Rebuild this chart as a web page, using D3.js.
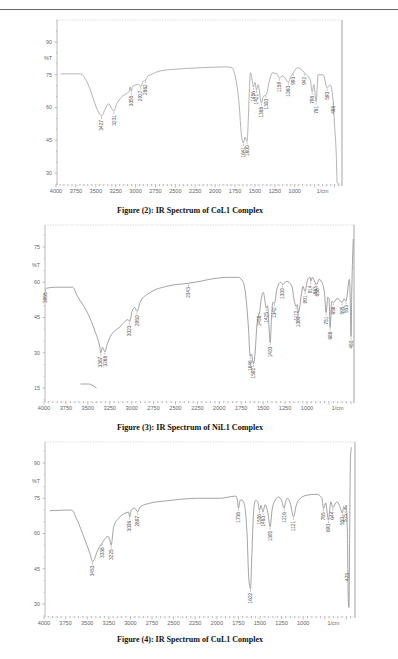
<!DOCTYPE html>
<html>
<head>
<meta charset="utf-8">
<script src="https://cdn.jsdelivr.net/npm/d3@7"></script>
<style>
    body { margin: 0; background: #fff; }
    svg { display: block; }
</style>
</head>
<body>
<svg id="page" width="398" height="659"></svg>
<script>
// each spectrum point: [wavenumber 1/cm, %T]
const coCurve = [[3940,75.4],[3690,75.4],[3625,72.7],[3560,67.2],[3500,60.7],[3460,57.5],[3427,56.1],[3386,58.9],[3336,61.7],[3311,60.3],[3273,58.4],[3236,61.7],[3160,65.3],[3085,67.2],[3068,69.5],[3055,67.3],[3040,69.5],[2960,70.6],[2935,69.6],[2905,72],[2872,72.5],[2850,74.2],[2810,75],[2684,76.8],[2434,77.7],[2183,78.2],[1870,78.6],[1790,78.3],[1744,73.6],[1700,62],[1669,47],[1644,43.8],[1625,46.5],[1600,44.5],[1582,56],[1568,70],[1556,75.9],[1535,72.5],[1519,69.4],[1500,71.5],[1481,68.1],[1460,70.5],[1419,62.1],[1395,65],[1360,65.8],[1320,72],[1281,75.9],[1230,75.5],[1193,73.6],[1150,74.5],[1080,71.7],[1045,74.5],[1018,75.9],[968,78.2],[920,77.5],[880,75.9],[840,74.5],[805,72.7],[781,67.2],[760,70.5],[731,62.6],[706,75],[643,75],[592,69],[554,70.4],[517,62.6],[504,54.3],[480,40],[466,25.4],[440,25]];
const coPeakWn = [3427, 3273, 3055, 2935, 2872, 1644, 1600, 1519, 1481, 1419, 1360, 1193, 1080, 1018, 880, 781, 731, 592, 517];
const coPeakText = ["3427", "3231", "3055", "2927", "2862", "1641", "1600", "1456", "1421", "1388", "1300", "1159", "1060", "993", "942", "798", "761", "590", "486"];

const niCurve = [[3983,57.4],[3869,57.9],[3675,57.9],[3618,54],[3505,47.1],[3413,38.6],[3364,32.6],[3352,30],[3333,32.3],[3305,30.4],[3280,33.5],[3243,36.9],[3130,41.1],[3041,44.1],[3023,43.3],[2995,47.6],[2966,49.3],[2939,47.6],[2900,51.9],[2786,55.7],[2597,58.3],[2351,59.6],[2218,60.4],[2104,61.3],[1876,62.1],[1785,62.1],[1728,60],[1694,52.7],[1667,40],[1648,28.5],[1635,29.5],[1610,25.3],[1590,31],[1575,40],[1555,46],[1540,47.5],[1522,53],[1497,55.7],[1480,52],[1465,49],[1450,50],[1432,40],[1420,34.3],[1405,45],[1390,51.5],[1371,51],[1344,57],[1300,60],[1280,59.1],[1230,60.4],[1173,58.3],[1144,51.9],[1124,49.7],[1112,50.5],[1098,47.1],[1067,54],[1048,58.3],[1022,56.1],[991,61.3],[965,62.1],[957,60.4],[939,62.1],[908,60],[888,59.1],[862,61.3],[831,60],[802,55.7],[782,47.1],[763,53.6],[748,52.7],[737,40.7],[718,51.9],[699,51.4],[660,53],[630,52.5],[600,51.4],[578,53],[555,52],[517,61.3],[505,50],[498,36.9],[490,55],[472,78.4]];
const niStray = [[3584,16.7],[3493,16.7],[3440,16],[3402,15]];
const niPeakWn = [3983, 3352, 3305, 3023, 2939, 2351, 1648, 1610, 1540, 1465, 1420, 1371, 1280, 1124, 1098, 1022, 957, 908, 888, 782, 737, 699, 600, 555, 498];
const niPeakText = ["3985", "3387", "3268", "3023", "2950", "2343", "1646", "1592", "1458", "1425", "1403", "1342", "1300", "1112", "1080", "991", "914", "863", "838", "751", "688", "658", "595", "553", "480"];

const cuCurve = [[3933,69.7],[3682,70],[3616,65.7],[3540,58.6],[3470,51.7],[3436,48],[3385,52.2],[3347,55],[3330,55.8],[3300,57.5],[3262,58.8],[3240,57.5],[3223,55],[3193,62.9],[3135,66.5],[3058,68.7],[3020,69.1],[3008,67.1],[2990,70],[2950,70.8],[2916,69.2],[2890,71.2],[2775,72.9],[2582,73.9],[2197,75],[1965,75],[1780,75.9],[1762,74.2],[1748,70.8],[1730,74.2],[1709,74.2],[1685,73],[1650,60],[1628,40],[1609,36.5],[1595,50],[1569,71.4],[1549,74.2],[1525,73.5],[1505,70],[1488,72],[1466,69.2],[1440,72.3],[1410,69],[1382,62.9],[1360,70],[1324,74.2],[1286,75.5],[1250,74],[1220,70.8],[1200,74],[1182,75],[1150,73],[1112,67.1],[1080,72],[1054,74.2],[957,76.3],[842,76.7],[784,75],[765,70.7],[740,73],[707,65.7],[680,73.5],[657,71],[611,73.5],[580,72],[546,68.7],[530,71.5],[514,70],[503,72.1],[488,60],[478,32],[470,28.5],[462,60],[452,93],[440,96.7]];
const cuPeakWn = [3436, 3330, 3223, 3008, 2916, 1748, 1609, 1505, 1466, 1382, 1220, 1112, 765, 707, 657, 546, 514, 470];
const cuPeakText = ["3453", "3338", "3225", "3006", "2897", "1738", "1622", "1506", "1483", "1392", "1216", "1121", "785", "690", "644", "550", "515", "473"];

const xTickLabels = [4000, 3750, 3500, 3250, 3000, 2750, 2500, 2250, 2000, 1750, 1500, 1250, 1000];
const coYTicks = [90, 75, 60, 45, 30];
const niYTicks = [75, 60, 45, 30, 15];
const cuYTicks = [90, 75, 60, 45, 30];
const titles = ["Figure (2): IR Spectrum of CoL1 Complex", "Figure (3): IR Spectrum of NiL1 Complex", "Figure (4): IR Spectrum of CuL1 Complex"];

let svg = d3.select("#page");

// rule at the top of the page
svg.append("line")
    .attr("x1", 0).attr("x2", 398)
    .attr("y1", 9.5).attr("y2", 9.5)
    .style("stroke", "#666")
    .style("stroke-width", 1);

function drawSpectrum(o) {
    let g = svg.append("g");
    let x = d3.scaleLinear().domain(o.xDomain).range(o.xRange);
    let y = d3.scaleLinear()
        .domain([o.yTicks[o.yTicks.length - 1], o.yTicks[0]])
        .range(o.yRange);
    let f = o.frame;

    // frame
    g.append("line").attr("x1", f.left).attr("x2", f.left).attr("y1", f.top).attr("y2", f.bottom)
        .style("stroke", "#a8a8a8").style("stroke-width", 0.8);
    g.append("line").attr("x1", f.right).attr("x2", f.right).attr("y1", f.top).attr("y2", f.bottom + 1)
        .style("stroke", "#999").style("stroke-width", 0.9);
    g.append("line").attr("x1", f.left).attr("x2", f.right).attr("y1", f.top).attr("y2", f.top)
        .style("stroke", "#d0d0d0").style("stroke-width", 0.7).style("stroke-dasharray", "1.5,1");
    g.append("line").attr("x1", f.left).attr("x2", f.right).attr("y1", f.bottom).attr("y2", f.bottom)
        .style("stroke", "#c4c4c4").style("stroke-width", 0.6).style("stroke-dasharray", "1,1.5");

    // x ticks
    let xMinor = d3.range(4000, x.invert(f.right), -50);
    g.selectAll("line.xt").data(xMinor).join("line")
        .attr("class", "xt")
        .attr("x1", d => x(d)).attr("x2", d => x(d))
        .attr("y1", f.bottom - 1)
        .attr("y2", d => f.bottom + (d % 250 == 0 ? 2.5 : 1.2))
        .style("stroke", "#999").style("stroke-width", 0.6);
    g.selectAll("text.xl").data(xTickLabels).join("text")
        .attr("class", "xl")
        .attr("x", d => x(d))
        .attr("y", f.bottom + 6)
        .attr("dy", "0.35em")
        .attr("text-anchor", "middle")
        .style("font-family", "Liberation Sans")
        .style("font-size", "5.6px")
        .style("fill", "#666")
        .text(d => d);
    g.append("text")
        .attr("x", x(650)).attr("y", f.bottom + 6.5).attr("dy", "0.35em")
        .attr("text-anchor", "middle")
        .style("font-family", "Liberation Sans").style("font-size", "5.4px").style("fill", "#666")
        .text("1/cm");

    // y ticks
    let yLow = y.invert(f.bottom), yHigh = y.invert(f.top);
    let yMinor = d3.range(Math.ceil(yLow / 5) * 5, yHigh, 5);
    g.selectAll("line.yt").data(yMinor).join("line")
        .attr("class", "yt")
        .attr("x1", d => f.left - (d % 15 == 0 ? 2.5 : 1.2)).attr("x2", f.left)
        .attr("y1", d => y(d)).attr("y2", d => y(d))
        .style("stroke", "#999").style("stroke-width", 0.6);
    g.selectAll("text.yl").data(o.yTicks).join("text")
        .attr("class", "yl")
        .attr("x", f.left - 5)
        .attr("y", d => y(d))
        .attr("dy", "0.35em")
        .attr("text-anchor", "end")
        .style("font-family", "Liberation Sans").style("font-size", "5.4px").style("fill", "#666")
        .text(d => d);
    g.append("text")
        .attr("x", f.left - 5)
        .attr("y", (y(o.yTicks[0]) + y(o.yTicks[1])) / 2)
        .attr("dy", "0.35em")
        .attr("text-anchor", "end")
        .style("font-family", "Liberation Sans").style("font-size", "5.4px").style("fill", "#666")
        .text("%T");

    // spectrum
    let line = d3.line()
        .x(d => x(d[0]))
        .y(d => y(d[1]))
        .curve(d3.curveMonotoneX);
    g.append("path").datum(o.curve)
        .attr("d", line)
        .style("fill", "none")
        .style("stroke", o.color)
        .style("stroke-width", 0.8);
    if (o.stray) {
        g.append("path").datum(o.stray)
            .attr("d", line)
            .style("fill", "none")
            .style("stroke", o.color)
            .style("stroke-width", 0.8);
    }

    // %T at a wavenumber
    function tAt(wn) {
        for (let i = 1; i < o.curve.length; i++) {
            let a = o.curve[i - 1], b = o.curve[i];
            if (wn <= a[0] && wn >= b[0]) {
                return a[1] + (b[1] - a[1]) * (a[0] - wn) / (a[0] - b[0]);
            }
        }
        return o.curve[0][1];
    }

    // peak labels
    o.peakWn.forEach(function (wn, i) {
        let px = x(wn);
        let dip = y(tAt(wn));
        let py = dip + 4;
        if (py + 12 > f.bottom) { py = f.bottom - 44; px -= 2; }
        else {
            g.append("line")
                .attr("x1", px).attr("x2", px)
                .attr("y1", dip + 0.8).attr("y2", dip + 3)
                .style("stroke", "#888").style("stroke-width", 0.5);
        }
        g.append("text")
            .attr("transform", "translate(" + px + "," + py + ") rotate(-90)")
            .attr("text-anchor", "end")
            .attr("dy", "0.35em")
            .style("font-family", "Liberation Sans")
            .style("font-size", "4.8px")
            .style("fill", "#555")
            .text(o.peakText[i]);
    });

    // caption
    svg.append("text")
        .attr("x", 190)
        .attr("y", o.titleY)
        .attr("text-anchor", "middle")
        .attr("textLength", 146)
        .attr("lengthAdjust", "spacingAndGlyphs")
        .style("font-family", "Liberation Serif")
        .style("font-weight", "bold")
        .style("font-size", "8.3px")
        .style("fill", "#111")
        .text(o.title);
}

drawSpectrum({
    curve: coCurve, peakWn: coPeakWn, peakText: coPeakText, yTicks: coYTicks,
    xDomain: [4000, 400], xRange: [56, 342.5], yRange: [173, 42],
    frame: { left: 57, right: 342, top: 20, bottom: 185 },
    color: "#a0a0a0", title: titles[0], titleY: 213
});
drawSpectrum({
    curve: niCurve, stray: niStray, peakWn: niPeakWn, peakText: niPeakText, yTicks: niYTicks,
    xDomain: [4000, 464], xRange: [44, 354], yRange: [388, 247],
    frame: { left: 45, right: 354, top: 225, bottom: 402 },
    color: "#8a8a8a", title: titles[1], titleY: 430
});
drawSpectrum({
    curve: cuCurve, peakWn: cuPeakWn, peakText: cuPeakText, yTicks: cuYTicks,
    xDomain: [4000, 400], xRange: [44, 355], yRange: [604, 463],
    frame: { left: 45, right: 355, top: 442, bottom: 617 },
    color: "#8c8c8c", title: titles[2], titleY: 642
});
</script>
</body>
</html>
